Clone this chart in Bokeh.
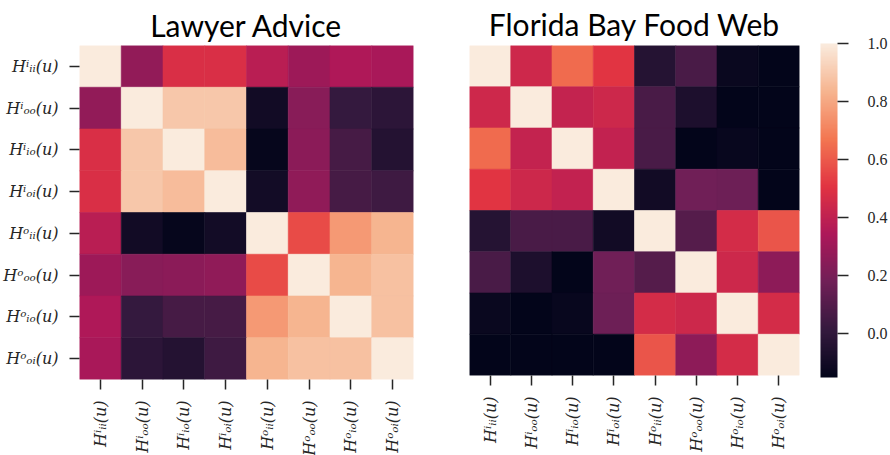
import math
import numpy as np
from bokeh.plotting import figure
from bokeh.models import (ColumnDataSource, LinearColorMapper, ColorBar, FixedTicker,
                          FactorRange, PrintfTickFormatter)
from bokeh.layouts import row
from bokeh.transform import transform
from bokeh.embed import file_html
from bokeh.resources import INLINE

# ---------------- data ----------------
labels = ["Hⁱᵢᵢ(u)", "Hⁱₒₒ(u)", "Hⁱᵢₒ(u)", "Hⁱₒᵢ(u)",
          "Hᵒᵢᵢ(u)", "Hᵒₒₒ(u)", "Hᵒᵢₒ(u)", "Hᵒₒᵢ(u)"]

lawyer = [
    [1.00, 0.27, 0.48, 0.48, 0.38, 0.30, 0.35, 0.33],
    [0.27, 1.00, 0.89, 0.89, -0.10, 0.24, 0.013, -0.014],
    [0.48, 0.89, 1.00, 0.86, -0.14, 0.25, 0.062, -0.04],
    [0.48, 0.89, 0.86, 1.00, -0.094, 0.265, 0.062, 0.04],
    [0.38, -0.10, -0.14, -0.094, 1.00, 0.567, 0.763, 0.835],
    [0.30, 0.24, 0.25, 0.265, 0.567, 1.00, 0.835, 0.87],
    [0.35, 0.013, 0.062, 0.062, 0.763, 0.835, 1.00, 0.87],
    [0.33, -0.014, -0.04, 0.04, 0.835, 0.87, 0.87, 1.00],
]

florida = [
    [1.00, 0.443, 0.643, 0.505, -0.037, 0.07, -0.125, -0.15],
    [0.443, 1.00, 0.415, 0.44, 0.07, -0.066, -0.15, -0.15],
    [0.643, 0.415, 1.00, 0.41, 0.07, -0.15, -0.13, -0.15],
    [0.505, 0.44, 0.41, 1.00, -0.099, 0.177, 0.17, -0.15],
    [-0.037, 0.07, 0.07, -0.099, 1.00, 0.10, 0.46, 0.59],
    [0.07, -0.066, -0.15, 0.177, 0.10, 1.00, 0.44, 0.253],
    [-0.125, -0.15, -0.13, 0.17, 0.46, 0.44, 1.00, 0.46],
    [-0.15, -0.15, -0.15, -0.15, 0.59, 0.253, 0.46, 1.00],
]

titles = ["Lawyer Advice", "Florida Bay Food Web"]
vmin, vmax = -0.152, 1.0
cbar_ticks = [0.0, 0.2, 0.4, 0.6, 0.8, 1.0]

# ---------------- rocket colormap ----------------
anchors = ["#03051a", "#35193e", "#701f57", "#ad1759", "#e13342",
           "#f37651", "#f6b48f", "#faebdd"]
apos = np.linspace(0, 1, len(anchors))
argb = np.array([[int(h[i:i + 2], 16) for i in (1, 3, 5)] for h in anchors], float)
tt = np.linspace(0, 1, 256)
palette = []
for t in tt:
    c = [np.interp(t, apos, argb[:, k]) for k in range(3)]
    palette.append("#%02x%02x%02x" % tuple(int(round(v)) for v in c))

mapper = LinearColorMapper(palette=palette, low=vmin, high=vmax)

TXT = "#262626"


def make_source(mat):
    xs, ys, vs = [], [], []
    for i, r in enumerate(mat):
        for j, v in enumerate(r):
            xs.append(labels[j])
            ys.append(labels[i])
            vs.append(v)
    return ColumnDataSource(dict(x=xs, y=ys, v=vs))


def make_fig(mat, title, fw, fh, bl, br, bt, bb, standoff, show_y):
    p = figure(frame_width=fw, frame_height=fh,
               x_range=FactorRange(*labels), y_range=FactorRange(*labels[::-1]),
               output_backend="svg", toolbar_location=None,
               min_border_left=bl, min_border_right=br,
               min_border_top=bt, min_border_bottom=bb)
    p.rect(x="x", y="y", width=1, height=1, source=make_source(mat),
           fill_color=transform("v", mapper), line_color=transform("v", mapper),
           line_width=0.6)
    p.title.text = title
    p.title.align = "center"
    p.title.text_font = "Lato"
    p.title.text_font_size = "30px"
    p.title.text_font_style = "normal"
    p.title.text_color = "#000000"
    p.title.standoff = standoff
    p.outline_line_color = None
    p.xgrid.visible = False
    p.ygrid.visible = False
    for ax in (p.xaxis[0], p.yaxis[0]):
        ax.axis_line_color = None
        ax.major_tick_out = 10
        ax.major_tick_in = 0
        ax.major_tick_line_color = TXT
        ax.major_tick_line_width = 1.5
        ax.minor_tick_line_color = None
        ax.major_label_text_font = "DejaVu Serif"
        ax.major_label_text_font_style = "italic"
        ax.major_label_text_font_size = "16px"
        ax.major_label_text_color = TXT
        ax.major_label_standoff = 11
    p.xaxis.major_label_orientation = math.pi / 2
    if not show_y:
        p.yaxis.visible = False
    return p


p1 = make_fig(lawyer, titles[0], 334, 334, 75, 23, 35, 66, 5, True)
p2 = make_fig(florida, titles[1], 330, 330, 33, 79, 37, 68, 7, False)

cb = ColorBar(color_mapper=mapper, ticker=FixedTicker(ticks=cbar_ticks),
              formatter=PrintfTickFormatter(format="%.1f"),
              width=17, height=334, padding=0, margin=0,
              location=(21, -2),
              bar_line_color=None, border_line_color=None,
              background_fill_alpha=0,
              major_tick_out=11, major_tick_in=0,
              major_tick_line_color=TXT, major_tick_line_width=1.5,
              minor_tick_line_color=None,
              major_label_text_font="Liberation Serif",
              major_label_text_font_size="16px",
              major_label_text_color=TXT,
              label_standoff=19)
p2.add_layout(cb, "right")

layout = row(p1, p2, spacing=0)
open("out.html", "w").write(file_html(layout, INLINE))
